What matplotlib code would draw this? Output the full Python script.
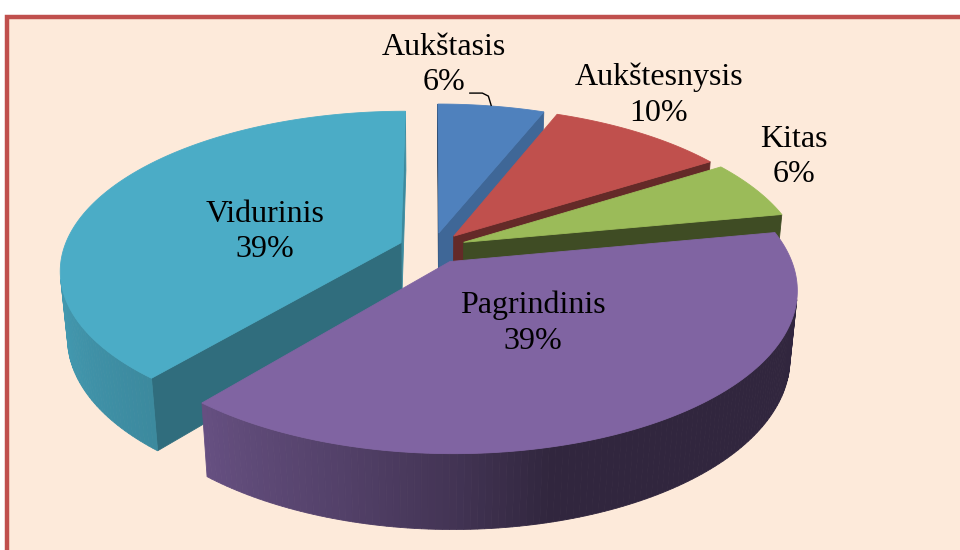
import numpy as np
import matplotlib
matplotlib.use("Agg")
import matplotlib.pyplot as plt
from matplotlib.patches import Polygon, Rectangle
from matplotlib.colors import to_rgb

# ---------------- data ----------------
categories = ["Aukštasis", "Aukštesnysis", "Kitas", "Pagrindinis", "Vidurinis"]
values = [6, 10, 6, 39, 39]
colors = ["#4F81BD", "#C0504D", "#9BBB59", "#8064A2", "#4BACC6"]

# ---------------- layout / projection ----------------
W, H, DPI = 960, 550, 100
CX, CY = 432.5, 248.0
SCALE = 337.0
ELEV = np.radians(27.4)
DRATIO = 6.0
THICK = 0.226
EXPLODE = 0.10
START = 90.0

# label placement (radius, angle) relative to slice centre
LABEL_R = [1.40, 1.354, 1.27, 0.412, 0.423]
LABEL_A = [89.0, 56.7, 30.1, -56.8, 167.6]
LABEL_DY = 3.0

ce, se = np.cos(ELEV), np.sin(ELEV)
DIST = DRATIO * ce
FOC = SCALE * DIST
CAM = np.array([0.0, -DIST * ce, DIST * se])


def proj(P):
    P = np.atleast_2d(np.asarray(P, dtype=float))
    X, Y, Z = P[:, 0], P[:, 1], P[:, 2]
    depth = DIST + Y * ce - Z * se
    sx = CX + FOC * X / depth
    sy = CY - FOC * (Y * se + Z * ce) / depth
    return np.column_stack([sx, sy]), depth


wall_xp = [-180, -130, -105, -90, -76, 30, 150, 180]
wall_fp = [0.93, 0.80, 0.64, 0.52, 0.38, 0.38, 0.90, 0.93]
rad_xp = [-80, -58, -40, -22]
rad_fp = [0.40, 0.52, 0.63, 0.80]


def shade(col, f):
    r, g, b = to_rgb(col)
    return (r * f, g * f, b * f)


def wrap(a):
    return (a + 180.0) % 360.0 - 180.0


fig = plt.figure(figsize=(W / DPI, H / DPI), dpi=DPI, facecolor="white")
ax = fig.add_axes([0, 0, 1, 1])
ax.set_xlim(0, W)
ax.set_ylim(H, 0)
ax.axis("off")

ax.add_patch(Rectangle((6.5, 16.5), W + 20, H + 20, facecolor="#FDEADA",
                       edgecolor="#C0504D", lw=3.2, zorder=0))

total = float(sum(values))
cum = np.concatenate([[0.0], np.cumsum(values)]) / total

slices = []
for i, (cat, v, col) in enumerate(zip(categories, values, colors)):
    t0 = START - 360.0 * cum[i]
    t1 = START - 360.0 * cum[i + 1]
    mid = 0.5 * (t0 + t1)
    m = np.radians(mid)
    off = EXPLODE * np.array([np.cos(m), np.sin(m), 0.0])
    nseg = max(4, int(abs(t0 - t1)))
    ts = np.radians(np.linspace(t0, t1, nseg + 1))
    rim_top = np.column_stack([np.cos(ts), np.sin(ts), np.zeros_like(ts)]) + off
    rim_bot = rim_top - np.array([0, 0, THICK])
    ctop = off.copy()
    cbot = off - np.array([0, 0, THICK])

    faces = []
    # outer wall
    for k in range(nseg):
        tm = 0.5 * (ts[k] + ts[k + 1])
        n = np.array([np.cos(tm), np.sin(tm), 0.0])
        quad = np.array([rim_top[k], rim_top[k + 1], rim_bot[k + 1], rim_bot[k]])
        cen = quad.mean(axis=0)
        if np.dot(n, CAM - cen) > 0:
            f = np.interp(wrap(np.degrees(tm)), wall_xp, wall_fp)
            faces.append((quad, shade(col, f)))
    # radial faces
    r0, r1 = np.radians(t0), np.radians(t1)
    for tt, n in ((r0, np.array([-np.sin(r0), np.cos(r0), 0.0])),
                  (r1, np.array([np.sin(r1), -np.cos(r1), 0.0]))):
        p = np.array([np.cos(tt), np.sin(tt), 0.0]) + off
        quad = np.array([ctop, p, p - np.array([0, 0, THICK]), cbot])
        cen = quad.mean(axis=0)
        if np.dot(n, CAM - cen) > 0:
            psi = wrap(np.degrees(np.arctan2(n[1], n[0])))
            f = np.interp(psi, rad_xp, rad_fp)
            faces.append((quad, shade(col, f)))
    top = np.vstack([ctop, rim_top])
    cen_pt = off + 0.5 * np.array([np.cos(m), np.sin(m), 0.0])
    _, dep = proj(cen_pt)
    slices.append(dict(i=i, faces=faces, top=top, col=col, depth=dep[0],
                       off=off, mid=m))

z = 1
for sl in sorted(slices, key=lambda s: -s["depth"]):
    fs = []
    for quad, fc in sl["faces"]:
        pts, dep = proj(quad)
        fs.append((dep.mean(), pts, fc))
    for _, pts, fc in sorted(fs, key=lambda t: -t[0]):
        ax.add_patch(Polygon(pts, closed=True, fc=fc, ec=fc, lw=0.6, zorder=z))
    pts, _ = proj(sl["top"])
    ax.add_patch(Polygon(pts, closed=True, fc=sl["col"], ec=sl["col"], lw=0.6,
                         zorder=z + 0.5))
    z += 1

# labels
for sl in slices:
    i = sl["i"]
    a = np.radians(LABEL_A[i])
    p = sl["off"] + LABEL_R[i] * np.array([np.cos(a), np.sin(a), 0.0])
    (lx, ly), = proj(p)[0]
    ly += LABEL_DY
    ax.text(lx, ly, f"{categories[i]}\n{values[i]}%", ha="center", va="center",
            multialignment="center", fontsize=23, family="Liberation Serif",
            color="black", linespacing=1.3, zorder=20)
    if i == 0:
        rim = sl["off"] + np.array([np.cos(sl["mid"]), np.sin(sl["mid"]), 0.0])
        (px, py), = proj(rim)[0]
        xs = [lx + 25, px - 9, px - 3, px]
        ys = [ly + 28, ly + 28, ly + 31, py]
        ax.plot(xs, ys, color="black", lw=1.0, zorder=20, solid_capstyle="butt")

fig.savefig("out.png", dpi=DPI, facecolor="white")
